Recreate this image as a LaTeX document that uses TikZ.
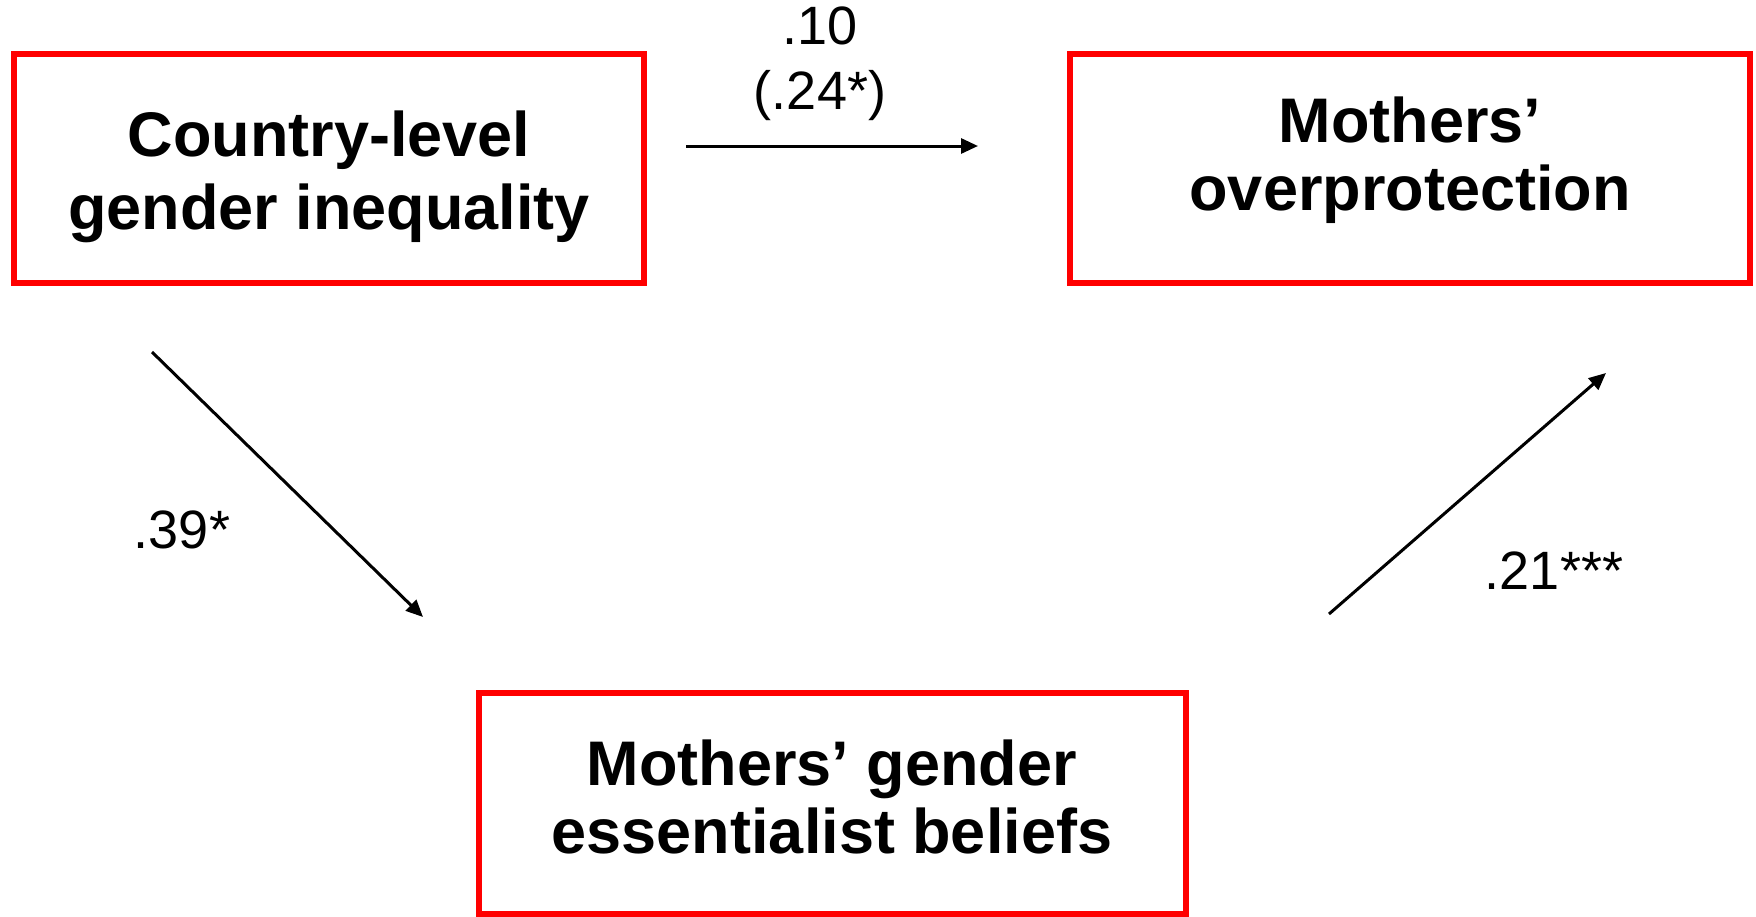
\documentclass[tikz,border=0pt]{standalone}
\usepackage{fontspec}
\setmainfont{Liberation Sans}
\usetikzlibrary{arrows.meta}
\definecolor{boxred}{RGB}{255,0,0}
\tikzset{
  varbox/.style={draw=boxred, line width=6pt, rectangle, inner sep=0pt},
  boxtext/.style={align=center, font=\fontsize{63}{71}\selectfont\bfseries, inner sep=0pt},
  coef/.style={align=center, font=\fontsize{54}{65}\selectfont, inner sep=0pt},
  path/.style={line width=3pt, -{Triangle[length=17pt,width=15pt]}}
}
\begin{document}
\begin{tikzpicture}[x=1pt,y=-1pt]
\useasboundingbox (0,0) rectangle (1756,916);
% boxes
\node[varbox, minimum width=630pt, minimum height=229pt] (b1) at (329,168.5) {};
\node[varbox, minimum width=680pt, minimum height=229pt] (b2) at (1410,168.5) {};
\node[varbox, minimum width=707pt, minimum height=221pt] (b3) at (832.5,803.5) {};
% texts
\node[boxtext, font=\fontsize{63}{73}\selectfont\bfseries] (t1) at (329,177) {Country-level\\gender inequality};
\node[boxtext, font=\fontsize{63}{68}\selectfont\bfseries] (t2) at (1410,160) {Mothers’\\overprotection};
\node[boxtext, font=\fontsize{63}{68}\selectfont\bfseries] (t3) at (832,797) {Mothers’ gender\\essentialist beliefs};
% connector endpoints
\coordinate (a1s) at (686,146);
\coordinate (a1e) at (978,146);
\coordinate (a2s) at (152,352);
\coordinate (a2e) at (423,617);
\coordinate (a3s) at (1329,614);
\coordinate (a3e) at (1606,373);
\draw[path] (a1s) -- (a1e);
\draw[path] (a2s) -- (a2e);
\draw[path] (a3s) -- (a3e);
% coefficients
\node[coef] (c1) at (820,64) {.10\\(.24*)};
\node[coef] (c2) at (182,530) {.39*};
\node[coef] (c3) at (1554,571) {.21***};
\end{tikzpicture}
\end{document}
